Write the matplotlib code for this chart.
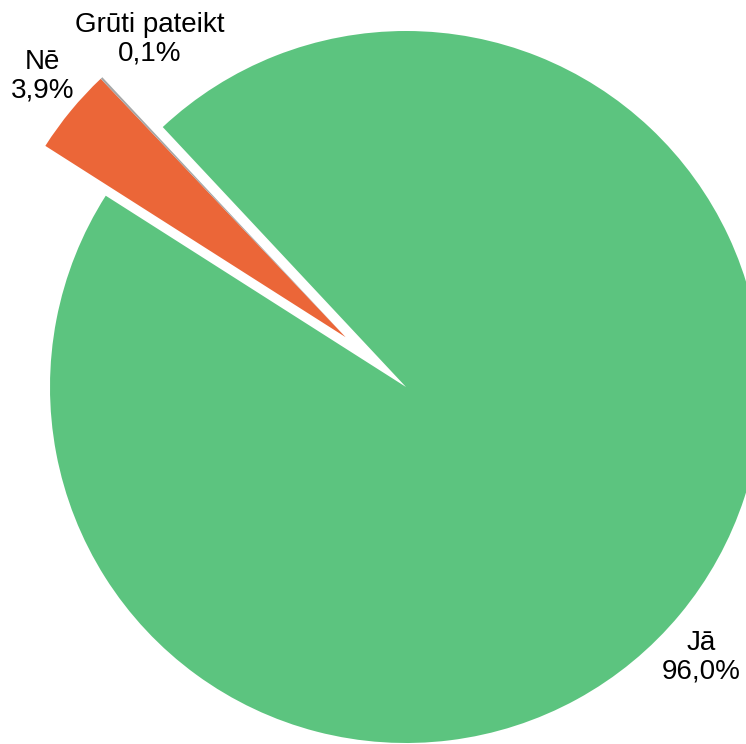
import matplotlib.pyplot as plt

# Data
labels = ['Jā', 'Nē', 'Grūti pateikt']
values = [96.0, 3.9, 0.1]
value_labels = ['96,0%', '3,9%', '0,1%']
colors = ['#5CC47F', '#EB6638', '#A6A6A6']
explode = [0, 0.22, 0.22]

# Label positions (data coords, pie radius = 1)
label_pos = [(0.829, -0.758), (-1.022, 0.874), (-0.719, 0.978)]

fig = plt.figure(figsize=(7.46, 7.44), dpi=100)
ax = fig.add_axes([0, 0, 1, 1])

wedges, _ = ax.pie(values, colors=colors, explode=explode, startangle=133.1,
                   counterclock=False, radius=1, wedgeprops=dict(linewidth=0))
# the tiny slice sits flush against the exploded "Nē" slice
wedges[2].set_center(wedges[1].center)

for (x, y), lab, val in zip(label_pos, labels, value_labels):
    ax.text(x, y, f'{lab}\n{val}', ha='center', va='center',
            fontsize=20, family='Liberation Sans', linespacing=1.12)

# Visuals
ax.set_xlim(-406 / 356, 340 / 356)
ax.set_ylim(-357 / 356, 387 / 356)
ax.set_aspect('equal')
ax.axis('off')

fig.savefig('out.png', dpi=100)
